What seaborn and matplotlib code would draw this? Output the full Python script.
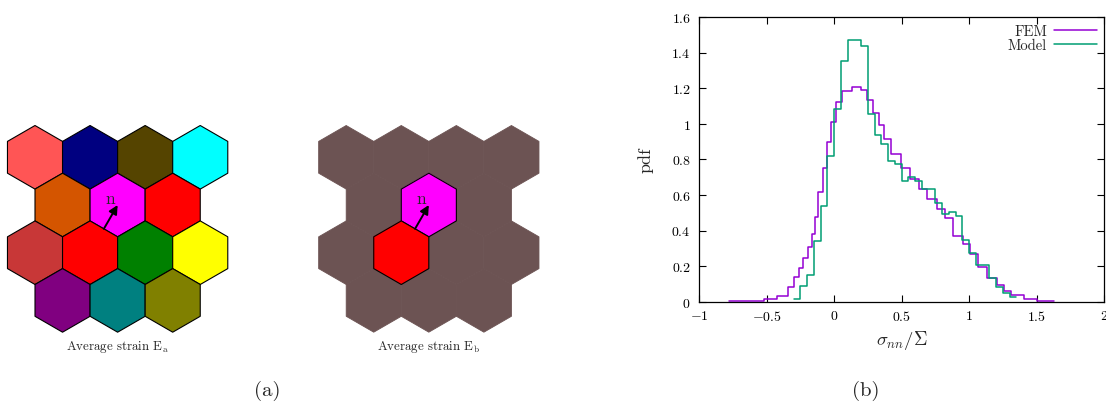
import numpy as np
import matplotlib
matplotlib.use("Agg")
import matplotlib.pyplot as plt
from matplotlib.patches import RegularPolygon
import seaborn as sns

# ---- data: panel (b) histograms ----
fem_edges = [-0.78, -0.71, -0.517, -0.425, -0.339, -0.294, -0.259, -0.227, -0.195, -0.165,
             -0.140, -0.116, -0.083, -0.053, -0.022, 0.013, 0.058, 0.137, 0.201, 0.244,
             0.288, 0.330, 0.372, 0.422, 0.496, 0.560, 0.627, 0.692, 0.762, 0.820,
             0.883, 0.955, 1.008, 1.067, 1.137, 1.210, 1.262, 1.308, 1.405, 1.507, 1.630]
fem_pdf = [0.002, 0.006, 0.017, 0.034, 0.084, 0.137, 0.189, 0.245, 0.305, 0.380,
           0.474, 0.614, 0.751, 0.895, 1.008, 1.120, 1.185, 1.204, 1.191, 1.135,
           1.062, 0.993, 0.912, 0.828, 0.750, 0.687, 0.631, 0.577, 0.521, 0.470,
           0.371, 0.322, 0.270, 0.193, 0.134, 0.095, 0.058, 0.036, 0.015, 0.003]

model_edges = [-0.30, -0.25, -0.20, -0.15, -0.10, -0.05, 0.00, 0.05, 0.10, 0.15, 0.20,
               0.25, 0.30, 0.35, 0.40, 0.45, 0.50, 0.55, 0.60, 0.65, 0.70, 0.75,
               0.80, 0.85, 0.90, 0.95, 1.00, 1.05, 1.10, 1.15, 1.20, 1.25, 1.30, 1.35]
model_pdf = [0.015, 0.087, 0.152, 0.339, 0.536, 0.820, 1.082, 1.353, 1.472, 1.472, 1.438,
             1.054, 0.936, 0.884, 0.792, 0.773, 0.678, 0.700, 0.678, 0.633, 0.633,
             0.554, 0.490, 0.506, 0.483, 0.348, 0.274, 0.208, 0.208, 0.131, 0.081,
             0.049, 0.025]

xticks = [-1, -0.5, 0, 0.5, 1, 1.5, 2]
xtick_labels = ["$-1$", "$-0.5$", "$0$", "$0.5$", "$1$", "$1.5$", "$2$"]
yticks = [0, 0.2, 0.4, 0.6, 0.8, 1.0, 1.2, 1.4, 1.6]
ytick_labels = ["$0$", "$0.2$", "$0.4$", "$0.6$", "$0.8$", "$1$", "$1.2$", "$1.4$", "$1.6$"]

# ---- data: panel (a) hexagon grids (rows of colours, odd rows shifted) ----
grid_a = [
    ["#ff5555", "#000080", "#554400", "#00ffff"],
    ["#d45500", "#ff00ff", "#ff0000"],
    ["#c83737", "#ff0000", "#008000", "#ffff00"],
    ["#800080", "#008080", "#808000"],
]
brown = "#6c5353"
grid_b = [
    [brown, brown, brown, brown],
    [brown, "#ff00ff", brown],
    [brown, "#ff0000", brown, brown],
    [brown, brown, brown],
]
highlight_b = [(1, 1), (2, 1)]
normal_pair = [(1, 1), (2, 1)]  # arrow from shared edge into first grain
captions = ["Average strain E$_\\mathrm{a}$", "Average strain E$_\\mathrm{b}$"]
panel_labels = ["(a)", "(b)"]

sns.set_style("ticks", {"xtick.direction": "in", "ytick.direction": "in"})
plt.rcParams["font.family"] = ["cmr10", "DejaVu Serif"]
plt.rcParams["mathtext.fontset"] = "cm"
plt.rcParams["axes.unicode_minus"] = False
plt.rcParams["axes.formatter.use_mathtext"] = True

W, H = 1106, 406
fig = plt.figure(figsize=(W / 100, H / 100), dpi=100)

# ---- hexagon panel ----
s3 = np.sqrt(3)
px = 31.8  # pixels per hex radius
ox, oy = 35, 158.3
hax = fig.add_axes([0, 0, 600 / W, 1])
hax.set_xlim(-ox / px, (600 - ox) / px)
hax.set_ylim(-(H - oy) / px, oy / px)
hax.axis("off")


def center(r, c, shift):
    return shift + c * s3 + (r % 2) * s3 / 2, -1.5 * r


shift_b = 311.2 / px


def draw_grid(grid, shift, edge, lw, zorder=1):
    for r, row in enumerate(grid):
        for c, col in enumerate(row):
            x, y = center(r, c, shift)
            ec = edge if edge else col
            hax.add_patch(RegularPolygon((x, y), 6, radius=1, facecolor=col,
                                         edgecolor=ec, linewidth=lw, zorder=zorder))


draw_grid(grid_a, 0, "black", 0.8)
draw_grid(grid_b, shift_b, None, 0.6)
for r, c in highlight_b:
    x, y = center(r, c, shift_b)
    hax.add_patch(RegularPolygon((x, y), 6, radius=1, facecolor=grid_b[r][c],
                                 edgecolor="black", linewidth=0.8, zorder=2))

for shift, cap in zip([0, shift_b], captions):
    (r1, c1), (r2, c2) = normal_pair
    x1, y1 = center(r1, c1, shift)
    x2, y2 = center(r2, c2, shift)
    hax.annotate("", xy=(x1, y1), xytext=((x1 + x2) / 2, (y1 + y2) / 2),
                 arrowprops=dict(arrowstyle="-|>", color="black", lw=1.4,
                                 mutation_scale=13, shrinkA=0, shrinkB=0), zorder=5)
    hax.text(x1 - 0.08, y1 - 0.02, "n", ha="right", va="bottom", fontsize=12.5, zorder=6)
    hax.text(shift + 1.5 * s3, -5.92, cap, ha="center", va="center", fontsize=9.3)

for xpos, lab in zip([267 / W, 866 / W], panel_labels):
    fig.text(xpos, 1 - 391 / H, lab, ha="center", va="center", fontsize=15)

# ---- histogram panel ----
ax = fig.add_axes([699 / W, 1 - 302.7 / H, (1104 - 699) / W, (302.7 - 17.9) / H])
fem_mid = [(a + b) / 2 for a, b in zip(fem_edges[:-1], fem_edges[1:])]
model_mid = [(a + b) / 2 for a, b in zip(model_edges[:-1], model_edges[1:])]
sns.histplot(x=fem_mid, weights=fem_pdf, bins=fem_edges, element="step", fill=False,
             color="#9400d3", linewidth=1.1, ax=ax, label="FEM")
sns.histplot(x=model_mid, weights=model_pdf, bins=model_edges, element="step", fill=False,
             color="#009e73", linewidth=1.1, ax=ax, label="Model")
ax.set_xlim(-1, 2)
ax.set_ylim(0, 1.6)
ax.set_xticks(xticks, labels=xtick_labels)
ax.set_yticks(yticks, labels=ytick_labels)
ax.tick_params(direction="in", length=5, width=0.8, top=True, right=True,
               labelsize=10, colors="black")
ax.tick_params(axis="x", pad=5)
ax.tick_params(axis="y", pad=6)
for sp in ax.spines.values():
    sp.set_visible(True)
    sp.set_color("black")
    sp.set_linewidth(0.9)
ax.set_xlabel(r"$\sigma_{nn}/\Sigma$", fontsize=13.5, labelpad=4)
ax.set_ylabel("pdf", fontsize=13, labelpad=13)
ax.legend(loc="upper right", frameon=False, markerfirst=False, fontsize=10.5,
          handlelength=2.9, labelspacing=0.05, borderaxespad=0.2, handletextpad=0.5,
          borderpad=0.3)

fig.savefig("out.png", dpi=100)
